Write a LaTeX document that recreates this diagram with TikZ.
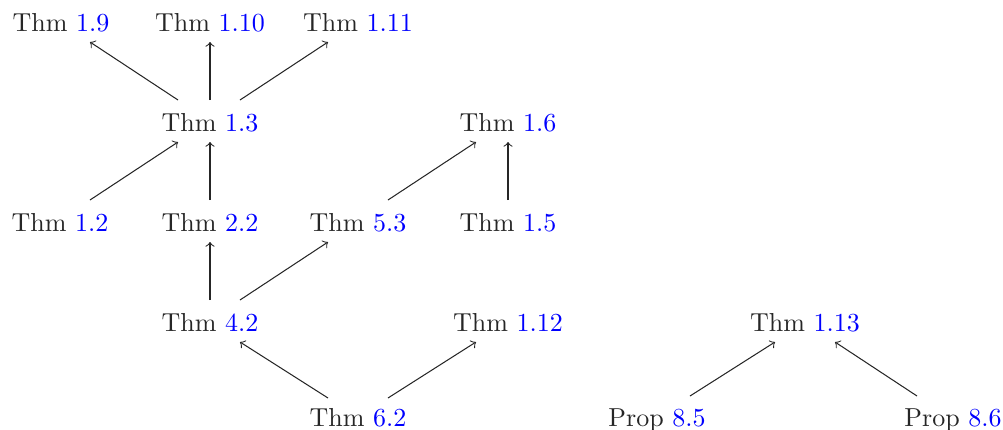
\documentclass[tikz,border=0pt]{standalone}
\usetikzlibrary{calc}
\definecolor{refblue}{RGB}{0,0,255}
\begin{document}
\begin{tikzpicture}[x=0.3846pt,y=-0.3846pt,
  lbl/.style={anchor=base,inner sep=0pt,text=black!85},
  arr/.style={->,line width=0.4pt,black!85}]
\useasboundingbox (0,0) rectangle (1003,429);
\newcommand{\rn}[1]{\textcolor{refblue}{#1}}
% row 1
\node[lbl] (t19)  at (61,31)  {Thm \rn{1.9}};
\node[lbl] (t110) at (210,31) {Thm \rn{1.10}};
\node[lbl] (t111) at (358,31) {Thm \rn{1.11}};
% row 2
\node[lbl] (t13)  at (210,131) {Thm \rn{1.3}};
\node[lbl] (t16)  at (508,131) {Thm \rn{1.6}};
% row 3
\node[lbl] (t12)  at (60,231)  {Thm \rn{1.2}};
\node[lbl] (t22)  at (210,231) {Thm \rn{2.2}};
\node[lbl] (t53)  at (358,231) {Thm \rn{5.3}};
\node[lbl] (t15)  at (508,231) {Thm \rn{1.5}};
% row 4
\node[lbl] (t42)  at (210,331) {Thm \rn{4.2}};
\node[lbl] (t112) at (508,331) {Thm \rn{1.12}};
\node[lbl] (t113) at (805,331) {Thm \rn{1.13}};
% row 5
\node[lbl] (t62)  at (358,426) {Thm \rn{6.2}};
\node[lbl] (p85)  at (657,426) {Prop \rn{8.5}};
\node[lbl] (p86)  at (953,426) {Prop \rn{8.6}};
% arrows
\draw[arr] ($(t13.base)+(-32,-31)$) -- ($(t19.base)+(29,11)$);
\draw[arr] ($(t13.base)+(0,-31)$)   -- ($(t110.base)+(0,11)$);
\draw[arr] ($(t13.base)+(30,-31)$)  -- ($(t111.base)+(-30,11)$);
\draw[arr] ($(t12.base)+(30,-31)$)  -- ($(t13.base)+(-32,11)$);
\draw[arr] ($(t22.base)+(0,-31)$)   -- ($(t13.base)+(0,11)$);
\draw[arr] ($(t53.base)+(30,-31)$)  -- ($(t16.base)+(-32,11)$);
\draw[arr] ($(t15.base)+(0,-31)$)   -- ($(t16.base)+(0,11)$);
\draw[arr] ($(t42.base)+(0,-31)$)   -- ($(t22.base)+(0,11)$);
\draw[arr] ($(t42.base)+(30,-31)$)  -- ($(t53.base)+(-30,11)$);
\draw[arr] ($(t62.base)+(-30,-28)$) -- ($(t42.base)+(30,11)$);
\draw[arr] ($(t62.base)+(30,-28)$)  -- ($(t112.base)+(-32,11)$);
\draw[arr] ($(p85.base)+(33,-30)$)  -- ($(t113.base)+(-30,11)$);
\draw[arr] ($(p86.base)+(-36,-30)$) -- ($(t113.base)+(30,11)$);
\end{tikzpicture}
\end{document}
